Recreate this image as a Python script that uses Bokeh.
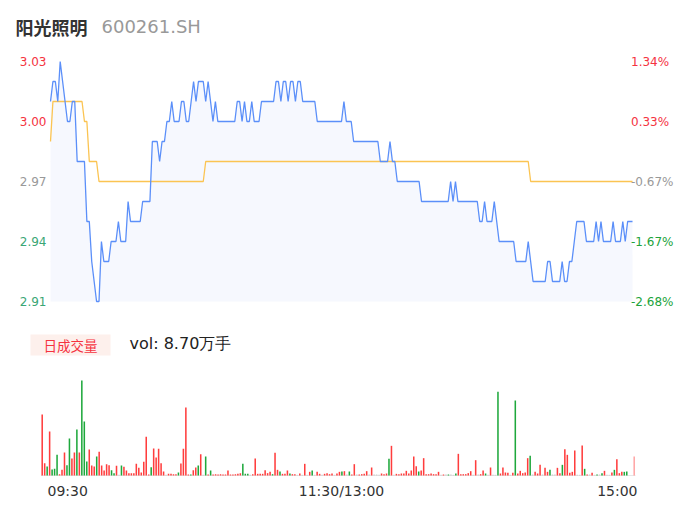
from bokeh.plotting import figure
from bokeh.models import Range1d
from bokeh.embed import file_html
from bokeh.resources import INLINE
from bokeh.core.properties import value

# ---------------- data ----------------
stock_name = "阳光照明"
stock_code = "600261.SH"
vol_tag = "日成交量"
vol_text = "vol: 8.70万手"

price_ticks = [3.03, 3.00, 2.97, 2.94, 2.91]
price_tick_labels = ["3.03", "3.00", "2.97", "2.94", "2.91"]
pct_tick_labels = ["1.34%", "0.33%", "-0.67%", "-1.67%", "-2.68%"]
tick_kind = ["up", "up", "flat", "down", "down"]
time_labels = ["09:30", "11:30/13:00", "15:00"]

price = [
    3.01, 3.02, 3.02, 3.01, 3.03, 3.02, 3.01, 3.00, 3.00, 3.01,
    3.01, 2.98, 2.98, 2.98, 2.98, 2.95, 2.95, 2.93, 2.92, 2.91,
    2.91, 2.94, 2.93, 2.93, 2.93, 2.94, 2.94, 2.94, 2.95, 2.94,
    2.94, 2.94, 2.96, 2.95, 2.95, 2.95, 2.95, 2.95, 2.96, 2.96,
    2.96, 2.96, 2.99, 2.99, 2.99, 2.98, 2.99, 2.99, 3.00, 3.00,
    3.01, 3.00, 3.00, 3.00, 3.01, 3.01, 3.00, 3.00, 3.01, 3.02,
    3.01, 3.02, 3.02, 3.02, 3.01, 3.02, 3.01, 3.00, 3.01, 3.00,
    3.00, 3.00, 3.00, 3.00, 3.00, 3.00, 3.00, 3.01, 3.01, 3.00,
    3.01, 3.00, 3.00, 3.01, 3.00, 3.00, 3.00, 3.01, 3.01, 3.01,
    3.01, 3.01, 3.01, 3.02, 3.02, 3.01, 3.02, 3.02, 3.01, 3.02,
    3.02, 3.01, 3.02, 3.02, 3.01, 3.01, 3.01, 3.01, 3.01, 3.01,
    3.00, 3.00, 3.00, 3.00, 3.00, 3.00, 3.00, 3.00, 3.00, 3.00,
    3.00, 3.01, 3.00, 3.00, 3.00, 2.99, 2.99, 2.99, 2.99, 2.99,
    2.99, 2.99, 2.99, 2.99, 2.99, 2.99, 2.98, 2.98, 2.98, 2.98,
    2.99, 2.98, 2.98, 2.97, 2.97, 2.97, 2.97, 2.97, 2.97, 2.97,
    2.97, 2.97, 2.97, 2.96, 2.96, 2.96, 2.96, 2.96, 2.96, 2.96,
    2.96, 2.96, 2.96, 2.96, 2.96, 2.97, 2.96, 2.97, 2.96, 2.96,
    2.96, 2.96, 2.96, 2.96, 2.96, 2.96, 2.96, 2.95, 2.95, 2.96,
    2.95, 2.95, 2.95, 2.96, 2.95, 2.94, 2.94, 2.94, 2.94, 2.94,
    2.94, 2.94, 2.93, 2.93, 2.93, 2.93, 2.93, 2.94, 2.93, 2.92,
    2.92, 2.92, 2.92, 2.92, 2.92, 2.93, 2.93, 2.92, 2.92, 2.92,
    2.92, 2.93, 2.92, 2.92, 2.93, 2.93, 2.94, 2.95, 2.95, 2.95,
    2.95, 2.94, 2.94, 2.94, 2.94, 2.95, 2.94, 2.95, 2.94, 2.94,
    2.94, 2.94, 2.95, 2.94, 2.94, 2.94, 2.95, 2.94, 2.95, 2.95,
    2.95,
]

avg_price = [
    2.99, 3.01, 3.01, 3.01, 3.01, 3.01, 3.01, 3.01, 3.01, 3.01,
    3.01, 3.01, 3.01, 3.01, 3.00, 3.00, 2.98, 2.98, 2.98, 2.98,
    2.97, 2.97, 2.97, 2.97, 2.97, 2.97, 2.97, 2.97, 2.97, 2.97,
    2.97, 2.97, 2.97, 2.97, 2.97, 2.97, 2.97, 2.97, 2.97, 2.97,
    2.97, 2.97, 2.97, 2.97, 2.97, 2.97, 2.97, 2.97, 2.97, 2.97,
    2.97, 2.97, 2.97, 2.97, 2.97, 2.97, 2.97, 2.97, 2.97, 2.97,
    2.97, 2.97, 2.97, 2.97, 2.98, 2.98, 2.98, 2.98, 2.98, 2.98,
    2.98, 2.98, 2.98, 2.98, 2.98, 2.98, 2.98, 2.98, 2.98, 2.98,
    2.98, 2.98, 2.98, 2.98, 2.98, 2.98, 2.98, 2.98, 2.98, 2.98,
    2.98, 2.98, 2.98, 2.98, 2.98, 2.98, 2.98, 2.98, 2.98, 2.98,
    2.98, 2.98, 2.98, 2.98, 2.98, 2.98, 2.98, 2.98, 2.98, 2.98,
    2.98, 2.98, 2.98, 2.98, 2.98, 2.98, 2.98, 2.98, 2.98, 2.98,
    2.98, 2.98, 2.98, 2.98, 2.98, 2.98, 2.98, 2.98, 2.98, 2.98,
    2.98, 2.98, 2.98, 2.98, 2.98, 2.98, 2.98, 2.98, 2.98, 2.98,
    2.98, 2.98, 2.98, 2.98, 2.98, 2.98, 2.98, 2.98, 2.98, 2.98,
    2.98, 2.98, 2.98, 2.98, 2.98, 2.98, 2.98, 2.98, 2.98, 2.98,
    2.98, 2.98, 2.98, 2.98, 2.98, 2.98, 2.98, 2.98, 2.98, 2.98,
    2.98, 2.98, 2.98, 2.98, 2.98, 2.98, 2.98, 2.98, 2.98, 2.98,
    2.98, 2.98, 2.98, 2.98, 2.98, 2.98, 2.98, 2.98, 2.98, 2.98,
    2.98, 2.98, 2.98, 2.98, 2.98, 2.98, 2.98, 2.98, 2.97, 2.97,
    2.97, 2.97, 2.97, 2.97, 2.97, 2.97, 2.97, 2.97, 2.97, 2.97,
    2.97, 2.97, 2.97, 2.97, 2.97, 2.97, 2.97, 2.97, 2.97, 2.97,
    2.97, 2.97, 2.97, 2.97, 2.97, 2.97, 2.97, 2.97, 2.97, 2.97,
    2.97, 2.97, 2.97, 2.97, 2.97, 2.97, 2.97, 2.97, 2.97, 2.97,
    2.97,
]

volume = [
    183, 37, 27, 132, 18, 20, 62, 4, 17, 69,
    31, 111, 51, 69, 138, 69, 285, 162, 42, 78,
    30, 27, 57, 71, 30, 15, 34, 31, 16, 7,
    29, 2, 30, 26, 15, 7, 7, 7, 35, 23,
    9, 41, 116, 3, 25, 81, 54, 80, 37, 12,
    2, 5, 5, 4, 4, 9, 36, 80, 204, 3,
    3, 16, 24, 30, 64, 2, 57, 3, 15, 3,
    4, 3, 4, 3, 3, 15, 3, 3, 4, 5,
    7, 35, 5, 5, 2, 4, 51, 5, 5, 5,
    16, 7, 11, 4, 68, 17, 12, 5, 5, 15,
    6, 4, 4, 2, 6, 2, 35, 2, 11, 15,
    2, 11, 5, 2, 5, 7, 4, 6, 2, 6,
    11, 12, 13, 3, 12, 3, 34, 3, 3, 4,
    5, 13, 3, 24, 3, 3, 2, 6, 4, 6,
    50, 89, 2, 5, 4, 6, 6, 14, 6, 15,
    57, 28, 12, 15, 52, 4, 4, 6, 4, 4,
    11, 2, 3, 3, 3, 3, 2, 6, 65, 4,
    4, 4, 7, 13, 2, 46, 3, 4, 15, 6,
    2, 24, 2, 2, 251, 6, 24, 9, 8, 2,
    8, 225, 6, 14, 7, 9, 52, 59, 3, 11,
    6, 32, 3, 23, 11, 17, 3, 3, 23, 7,
    32, 79, 62, 8, 11, 75, 2, 2, 90, 20,
    3, 3, 8, 2, 3, 3, 7, 14, 2, 2,
    9, 17, 49, 7, 11, 11, 12, 0, 0, 57,
]

# u = up (red), d = down (green), f = flat (grey), a = closing auction
volume_dir = [
    "u", "u", "d", "u", "d", "d", "d", "u", "u", "u",
    "d", "d", "u", "u", "d", "u", "d", "d", "d", "u",
    "u", "u", "d", "u", "u", "u", "u", "u", "d", "d",
    "u", "f", "d", "u", "u", "u", "u", "u", "u", "u",
    "u", "u", "u", "u", "d", "u", "u", "u", "u", "u",
    "f", "u", "u", "u", "u", "d", "u", "u", "u", "u",
    "d", "u", "u", "d", "u", "f", "d", "u", "d", "u",
    "u", "u", "u", "u", "u", "u", "u", "u", "u", "u",
    "u", "d", "d", "d", "f", "u", "u", "u", "u", "u",
    "u", "u", "u", "d", "u", "u", "d", "u", "u", "u",
    "d", "u", "u", "f", "u", "f", "u", "f", "u", "d",
    "f", "u", "u", "f", "u", "u", "u", "u", "f", "u",
    "u", "d", "u", "f", "d", "u", "u", "f", "u", "u",
    "u", "u", "f", "u", "f", "f", "f", "u", "u", "u",
    "d", "u", "f", "u", "u", "u", "u", "u", "u", "u",
    "u", "u", "d", "u", "u", "u", "u", "u", "u", "u",
    "u", "f", "u", "f", "d", "f", "f", "d", "u", "u",
    "u", "u", "u", "u", "f", "u", "f", "u", "u", "d",
    "f", "u", "f", "f", "d", "u", "u", "u", "u", "f",
    "u", "d", "u", "u", "u", "u", "u", "d", "f", "u",
    "u", "u", "f", "u", "u", "d", "f", "f", "u", "u",
    "d", "u", "u", "u", "u", "u", "f", "f", "u", "d",
    "u", "f", "u", "f", "d", "f", "d", "u", "f", "f",
    "u", "d", "u", "u", "u", "d", "d", "f", "f", "a",
]

# ---------------- styling / layout ----------------
W, H = 686, 524
LATIN = value("DejaVu Sans")
CJK = value("Noto Sans CJK SC")
RED, GREEN, GREY = "#f5333f", "#21a33b", "#999999"
LEFT_GREEN = "#3aa675"
dir_color = {"u": "#ff3d3d", "d": "#1ea83c", "f": "#c8c8c8", "a": "#ffa5a5"}
tick_color_left = {"up": RED, "flat": GREY, "down": LEFT_GREEN}
tick_color_right = {"up": RED, "flat": GREY, "down": GREEN}

# page-pixel layout of the price panel and volume panel
PX_FIRST, PX_LAST = 50.0, 632.0           # x of first / last minute
PY_TOP, PY_BOT = 61.0, 301.0              # y of top / bottom price tick
VX_FIRST, VX_LAST = 41.7, 633.7           # x of first / last volume bar
VY_BASE, VY_MAXPX = 475.0, 95.0           # volume baseline, px of tallest bar
MARGIN = 0.0

n = len(price)
minutes = list(range(n))
per_min = (PX_LAST - PX_FIRST) / (n - 1)
x_start = -(PX_FIRST - MARGIN) / per_min
x_end = x_start + W / per_min

p_hi, p_lo = max(price_ticks), min(price_ticks)
per_unit = (PY_BOT - PY_TOP) / (p_hi - p_lo)
y_end = p_hi + (PY_TOP - MARGIN) / per_unit
y_start = p_lo - (MARGIN + H - PY_BOT) / per_unit

nv = len(volume)
bars = list(range(nv))
per_bar = (VX_LAST - VX_FIRST) / (nv - 1)
vx_start = -(VX_FIRST - MARGIN) / per_bar
vx_end = vx_start + W / per_bar
vmax = max(volume)
v_per_px = vmax / VY_MAXPX
vy_start = -(MARGIN + H - VY_BASE) * v_per_px
vy_end = (VY_BASE - MARGIN) * v_per_px

p = figure(width=W, height=H, output_backend="svg", toolbar_location=None,
           x_axis_type=None, y_axis_type=None, min_border=0,
           x_range=Range1d(x_start, x_end), y_range=Range1d(y_start, y_end))
p.outline_line_color = None
p.background_fill_color = "white"
p.border_fill_color = "white"
p.extra_x_ranges = {"vol": Range1d(vx_start, vx_end),
                    "px": Range1d(MARGIN, MARGIN + W)}
p.extra_y_ranges = {"vol": Range1d(vy_start, vy_end),
                    "px": Range1d(MARGIN + H, MARGIN)}

# price area + lines
p.varea(x=minutes, y1=[p_lo] * n, y2=price, fill_color="#f6f8fe")
p.line(minutes, avg_price, line_color="#fbc452", line_width=1.3)
p.line(minutes, price, line_color="#5b8ff9", line_width=1.3)

# volume bars
p.segment(x0=[bars[0] - 0.5], x1=[bars[-1] + 0.5], y0=[0], y1=[0],
          line_color="#e6e6e6", line_width=1,
          x_range_name="vol", y_range_name="vol")
p.vbar(x=bars, top=volume, width=0.62, bottom=0,
       fill_color=[dir_color[d] for d in volume_dir], line_color=None,
       x_range_name="vol", y_range_name="vol")

# left / right price tick labels
p.text(x=[46] * len(price_ticks), y=price_ticks, text=price_tick_labels,
       text_color=[tick_color_left[k] for k in tick_kind],
       text_font=LATIN, text_font_size="12px", text_align="right",
       text_baseline="middle", x_range_name="px")
p.text(x=[630.5] * len(price_ticks), y=price_ticks, text=pct_tick_labels,
       text_color=[tick_color_right[k] for k in tick_kind],
       text_font=LATIN, text_font_size="12px", text_align="left",
       text_baseline="middle", x_range_name="px")

# title
p.text(x=[15], y=[26], text=[stock_name], text_color="#333333",
       text_font=CJK, text_font_size="18px", text_font_style="bold",
       text_baseline="middle", x_range_name="px", y_range_name="px")
p.text(x=[101], y=[26], text=[stock_code], text_color="#999999",
       text_font=LATIN, text_font_size="18px",
       text_baseline="middle", x_range_name="px", y_range_name="px")

# volume tag
p.quad(left=[30], right=[110], top=[334], bottom=[355], fill_color="#fdf0ec",
       line_color=None, x_range_name="px", y_range_name="px")
p.text(x=[70], y=[344.5], text=[vol_tag], text_color="#f5333f",
       text_font=CJK, text_font_size="13.5px", text_align="center",
       text_baseline="middle", x_range_name="px", y_range_name="px")
p.text(x=[129], y=[342.5], text=[vol_text], text_color="#222222",
       text_font=LATIN, text_font_size="16px", text_align="left",
       text_baseline="middle", x_range_name="px", y_range_name="px")

# time axis labels
p.text(x=[47, 341, 637], y=[490, 490, 490], text=time_labels,
       text_color="#333333", text_font=LATIN, text_font_size="14px",
       text_align=["left", "center", "right"], text_baseline="middle",
       x_range_name="px", y_range_name="px")

open("out.html", "w").write(file_html(p, INLINE))
